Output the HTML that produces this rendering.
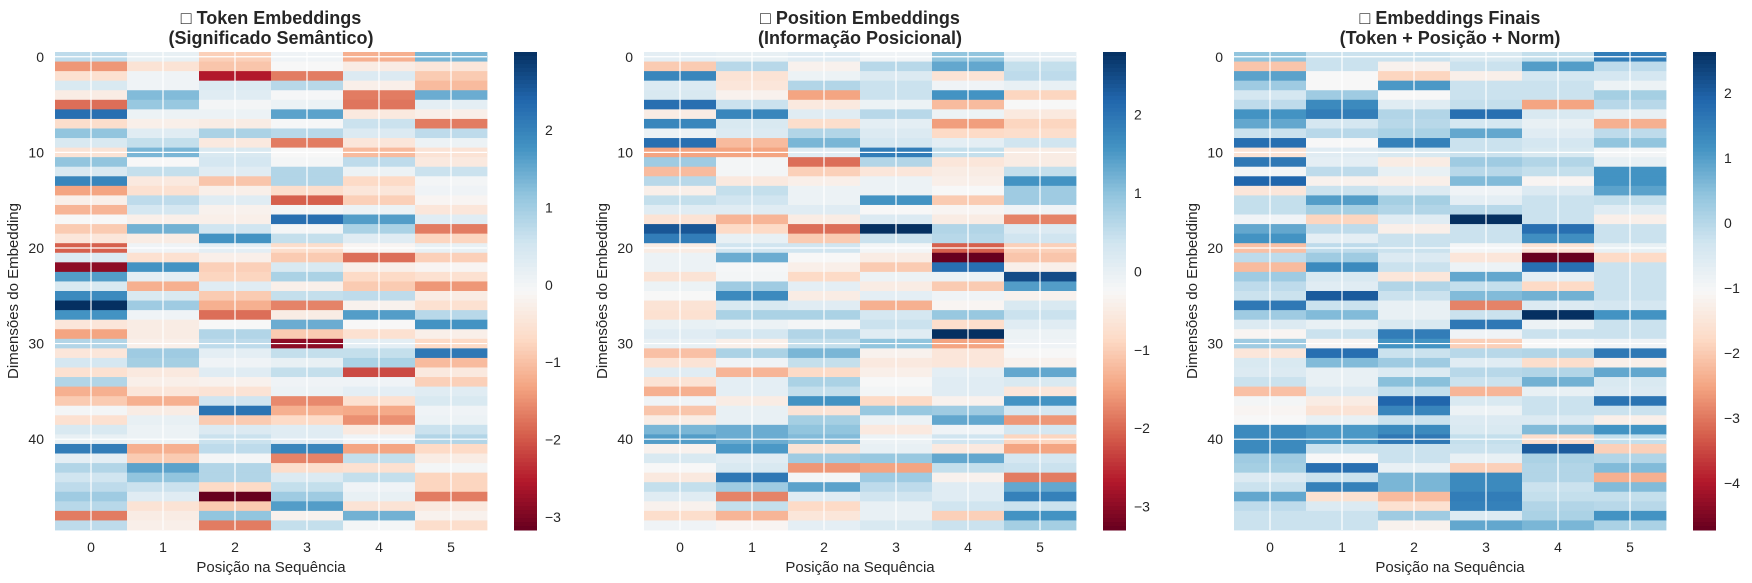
<!DOCTYPE html>
<html><head><meta charset="utf-8"><style>
html,body{margin:0;padding:0;background:#fff;}
svg{display:block;font-family:"Liberation Sans","DejaVu Sans",sans-serif;}
</style></head><body>
<svg id="fig" width="1752" height="583" viewBox="0 0 1752 583" xmlns="http://www.w3.org/2000/svg"></svg>
<script>
// Cell readings per heatmap (rows = embedding dims 0..49, columns = positions 0..5), in colour-level units
const positions = [0,1,2,3,4,5];
const yTickLabels = [0,10,20,30,40];
const tokenCols = [
[1.3,-2.2,-0.8,0.8,-0.4,-2.8,3.8,-0.9,2,0.8,-0.7,2,0.8,3.3,-2,-0.3,-1.7,0,-1.3,-0.6,-3,0.7,-4.5,2.8,0.8,3.2,5,3,-0.6,-2,1.5,-0.6,0.9,-0.8,1.5,-1.8,-1.3,0.1,-0.8,0.8,0.4,3.5,0.5,1.5,1,1.3,1.8,1.4,-2.6,1.3],
[0.4,-0.7,0.2,0.2,2.2,1.9,0.3,-0.3,0.6,1.2,2.3,0,1.2,-0.5,-0.8,1.3,0.9,-0.3,2.4,-0.4,0.2,-0.8,3,0.5,-1.8,0.8,1.8,0.2,-0.4,-0.4,-0.3,1.8,1.7,-0.5,-0.3,-0.6,-1.8,-0.4,0.4,0.3,0.3,-1.8,-1.3,2.7,2,1.1,0.6,-0.7,-0.4,-0.3],
[-1.2,-1.4,-4,0.7,0.6,0.1,0.3,-0.4,1.6,-0.5,0.8,0.9,0.6,-1.4,-0.3,0.6,-0.2,-0.3,1,3,0.5,-0.3,-1.2,-1.1,0.6,-1.3,-1.8,-2.8,0,1.5,1.3,0.5,0.2,0.6,-0.2,-0.7,1,3.7,-1.3,0.7,1.1,1.3,0.1,1.5,1.5,-1,-5,-1.3,2,-2.6],
[0.2,0,-2.6,1.4,0.05,0.3,2.7,0.05,1.4,-2.6,0,0.1,1.5,1.5,-0.9,-3,0.1,3.8,0.1,1.2,-0.9,-1.3,0.8,1.6,-0.3,1.2,-2.5,-0.4,2.5,-1.3,-4.5,1.2,0.4,1.2,0.2,0.3,-2.4,-1.8,-1,0.6,0.6,3.3,-2.5,-0.9,0.7,1.2,1.8,2.8,-0.2,1.2],
[-1.8,-0.4,0.7,-0.3,-2.6,-2.7,-0.5,1.1,0.7,-0.6,-1.6,1.3,0.3,-1,-0.6,-1.2,0.3,2.8,1.6,0.6,-0.1,-2.8,-0.3,-1,-1.3,1.3,-0.2,2.8,0,-0.8,0.5,1.2,1.6,-3.3,0.2,0.5,-0.8,-1.9,-2.3,-0.5,0.2,-2,1.2,-0.8,1.2,0.2,0.4,-0.7,2.4,0.1],
[2.3,-0.6,-1.3,-1.6,2.5,0.5,-0.3,-2.6,1.3,0.3,-0.7,-0.5,1.1,0.1,0.2,-0.1,-0.6,0.6,-2.6,-1.1,0.4,-1.2,-0.1,-0.8,-2.2,-0.4,-0.8,1.4,3,-0.3,-1,3.6,-1.6,-0.5,-1.2,0.6,0.8,0.2,0.3,1.1,1.5,-1,-0.4,0.1,-1.1,-1.1,-2.6,-0.5,-0.2,-0.9]
];
const positionCols = [
[0.5,-1.3,3.3,0.7,0.8,3.8,-0.4,3.3,0.3,3.8,-2,1.8,-1.6,1.4,-0.3,1.2,0.6,-0.7,4.3,3.5,-0.4,0.3,0.3,-0.7,0.3,0,-0.7,-0.8,0.4,0.6,0.4,-1.5,-0.7,0.6,-0.7,-1.8,0.2,-1.4,-0.4,2.3,2.8,-0.2,0.8,0,-0.5,1.2,0.6,-0.2,-0.9,0.2],
[0.4,1.4,-0.7,-0.6,-0.2,1.1,3.3,0.8,0.7,-1.6,-2,0.1,0.1,-0.5,1.2,1,0.6,-1.7,-1,0.4,1,2.5,0.05,0.1,1.8,3.2,0.8,1.6,0.3,0.9,-0.3,1.6,0.2,-1.7,0.5,0.5,-0.4,0.4,0.4,2.5,2.5,2.9,0.6,0.8,3.6,1.8,-2.5,1.2,-1.7,-0.1],
[0.6,-0.2,0.3,1.5,-2,-0.5,0.6,-0.9,1.5,2.3,0.6,-2.8,-1.2,-0.3,0.3,0.3,0.6,-0.4,-2.8,-1.3,1,0,-0.3,-1,0.5,-0.4,0.6,1.6,0.1,1.5,1.2,2.3,1.2,-1,1.6,1.2,3,-0.7,1.7,2,2.2,-0.7,1.8,-2.2,0.1,2.7,0.6,-1,-0.6,0.5],
[0.2,1.4,0.7,1.1,1.1,0.3,1.4,0.5,0.7,0.9,3.5,1.5,-0.6,0.3,0.3,3,0,0.7,5,1.1,0.1,-0.4,-1.3,0.3,-0.4,0.5,-1.8,0.9,1.1,0.6,2,-0.2,-0.5,-0.3,0,0.1,-1,1.9,0.3,-0.5,0.3,0.4,1.9,-2,1.8,1.3,1,0.4,0.4,0.8],
[2,2.6,-0.7,0.2,3,-1.6,0.3,-2.1,-1,0.5,1.2,-0.6,-0.4,-0.3,0,-1.3,-0.1,-0.4,1.5,1.4,-3,-5,3.8,0.3,-1.3,0.2,-0.1,1.9,-0.9,5,-2,-0.6,-0.6,0.5,0.6,0.6,-0.2,1.8,2.6,0.2,1,-0.5,2.6,1.2,-0.2,0.6,0.6,1,-1.2,1.1],
[0.5,1.2,1.3,0.4,-1.1,0,-0.5,-1.1,-0.9,1,-0.4,-0.4,1.2,3,1.8,1.8,0.2,-2.5,0.7,1,-1.2,-1.4,-0.3,4.5,2.8,-0.2,0.8,1.1,0.6,0.3,0.2,0,-0.2,2.6,0.8,-0.6,3,0.9,-2.2,0.9,-1.1,-2,0.9,1.1,-2.6,2.6,3.4,1.1,3,1.7]
];
const finalCols = [
[2,-1.4,2.7,1.8,0.9,1.3,3,2.6,1.1,3.8,-0.7,3.6,0.1,4,-0.6,1.2,1.2,0.2,2.6,3,-1.5,1.3,-1.6,1.8,1.3,1.1,3.6,1.8,0.7,-0.1,1.8,-0.6,0.8,0.7,1.1,-1.5,0.1,-0.1,0,3.2,3.2,3.2,1.8,1.7,0.7,1.1,2.6,1.3,1.1,1.1],
[1.1,1.1,0,0,1.8,3.2,3.5,0.9,1.4,0,0.6,0.5,1.3,-0.2,1.1,2.8,1.7,-1.1,1.3,0.5,1.3,1.8,3.2,0.8,0.6,4.2,1.1,2.2,0.4,1.1,-0.1,3.8,2.2,0.4,0.4,0.7,-0.4,-0.7,0.4,2.9,2.9,1.1,0,3.8,1.1,3.4,-0.8,0.7,1.1,1.1],
[1.1,-0.2,-1.1,2.9,0,0.6,1.5,1.4,1.6,3.4,0.8,-0.4,0.4,-0.3,0.7,1.7,1.5,0.6,-0.3,1.1,1.1,0.7,1.1,-0.6,1.5,1.1,0.4,0.4,0.8,3.5,3,1.1,1.8,0.7,2.1,1.2,4,3.3,1.1,3.2,3.6,1.1,1.1,0.4,2.3,2.3,-1.6,-0.8,1.8,-0.2],
[0.8,1.1,-0.3,1.1,1.1,1.2,3.8,0.9,2.6,1.1,1.1,1.8,1.4,2.2,0.2,0.5,1.4,5,1.1,1.1,0.1,-0.6,0.3,2.6,1.2,2.2,-2.5,1.1,3.6,0.2,-1.2,1.4,0.6,1.4,1.1,-1.7,0.8,0.3,0.7,0.8,1.2,1.1,0.4,-1.2,3.2,3.2,3.5,3.4,0.7,2.6],
[1.2,2.8,0.9,1.1,1.1,-2,0.8,0.4,0.6,0.9,0.8,1.5,1.2,-0.1,0.7,1.1,1.1,1.1,3.8,3.1,-0.7,-5,3.8,0.5,-1,2.4,0.7,5,0.3,1.1,0,1.5,-0.9,1.5,2.4,0.4,1.1,1.1,0.7,2.2,-0.9,4.2,1.6,1.5,1.5,1.1,1.2,1.5,1.6,2.3],
[3.5,1.3,0.9,0.3,1.7,1.4,0.4,-1.8,1.3,2,0.1,0.4,3,3,2.7,1.2,0.6,-0.3,1.1,1.1,0.4,-1,1.1,1.1,1.1,1.1,0.9,3,1.1,1.1,0.2,3.6,-0.3,2.6,0.8,0.7,3.7,1.1,-0.3,3,1.2,-1.2,1.5,2.2,-1.8,2.2,1.2,1.4,3,1.6]
];
// colour-bar tick labels per panel
const cbTicks1 = [2,1,0,-1,-2,-3];
const cbTicks2 = [2,1,0,-1,-2,-3];
const cbTicks3 = [2,1,0,-1,-2,-3,-4];

const RDBU = ['#67001f','#b2182b','#d6604d','#f4a582','#fddbc7','#f7f7f7','#d1e5f0','#92c5de','#4393c3','#2166ac','#053061'];
function hex(h){return [parseInt(h.substr(1,2),16),parseInt(h.substr(3,2),16),parseInt(h.substr(5,2),16)];}
function cmap(t){t=Math.max(0,Math.min(1,t));const p=t*10,i=Math.min(9,Math.floor(p)),f=p-i;const a=hex(RDBU[i]),b=hex(RDBU[i+1]);
 return 'rgb('+a.map((v,k)=>Math.round(v+(b[k]-v)*f)).join(',')+')';}
const NS='http://www.w3.org/2000/svg';
const svg=document.getElementById('fig');
function el(tag,attrs,parent){const e=document.createElementNS(NS,tag);for(const k in attrs)e.setAttribute(k,attrs[k]);(parent||svg).appendChild(e);return e;}
function txt(s,attrs,parent){const e=el('text',attrs,parent);e.textContent=s;return e;}

const TOP=52,BOT=530,NROW=50;
const panels=[
 {name:'token',cols:tokenCols,x0:55,x1:487,cb:514,vmin:-3.17,vmax:3.01,ticks:cbTicks1,t1:'□ Token Embeddings',t2:'(Significado Semântico)',ytx:18},
 {name:'position',cols:positionCols,x0:644,x1:1076,cb:1103,vmin:-3.3,vmax:2.8,ticks:cbTicks2,t1:'□ Position Embeddings',t2:'(Informação Posicional)',ytx:607},
 {name:'final',cols:finalCols,x0:1234,x1:1666,cb:1693,vmin:-4.72,vmax:2.63,ticks:cbTicks3,t1:'□ Embeddings Finais',t2:'(Token + Posição + Norm)',ytx:1197}
];
panels.forEach(P=>{
 const g=el('g',{});
 
 
 const mid=(P.vmin+P.vmax)/2, half=(P.vmax-P.vmin)/2;
 const colW=(P.x1-P.x0)/positions.length, rowH=(BOT-TOP)/NROW;
 const xs=i=>P.x0+i*colW, ys=r=>TOP+r*rowH;
 const toValue=l=>mid+l*half/5;              // colour level -> data value
 const norm=v=>(v-P.vmin)/(P.vmax-P.vmin);
 P.cols.forEach((col,ci)=>{
  col.forEach((lv,ri)=>{
   const r=el('rect',{x:xs(ci).toFixed(2),y:ys(ri).toFixed(2),width:(colW+0.4).toFixed(2),height:(rowH+0.4).toFixed(2),fill:cmap(norm(toValue(lv)))},g);
   
   
  });
 });
 // grid lines
 positions.forEach((p,i)=>{const l=el('line',{x1:xs(i)+colW/2,x2:xs(i)+colW/2,y1:TOP,y2:BOT,stroke:'#fff','stroke-width':1.2},g);
  });
 yTickLabels.forEach(t=>{const y=ys(t)+rowH/2;const l=el('line',{x1:P.x0,x2:P.x1,y1:y,y2:y,stroke:'#fff','stroke-width':1.2},g);
  
  const tl=txt(String(t),{x:P.x0-11,y:y+5,'text-anchor':'end','font-size':14,fill:'#262626'},g);
  });
 positions.forEach((p,i)=>{const tl=txt(String(p),{x:xs(i)+colW/2,y:552,'text-anchor':'middle','font-size':14,fill:'#262626'},g);
  });
 const xt=txt('Posição na Sequência',{x:(P.x0+P.x1)/2,y:572,'text-anchor':'middle','font-size':15,fill:'#262626'},g);
 
 const yt=txt('Dimensões do Embedding',{x:0,y:0,'text-anchor':'middle','font-size':15,fill:'#262626',transform:'translate('+P.ytx+','+((TOP+BOT)/2)+') rotate(-90)'},g);
 
 const cx=(P.x0+P.x1)/2;
 const t1=txt(P.t1,{x:cx,y:24,'text-anchor':'middle','font-size':18,'font-weight':'bold',fill:'#262626'},g);
 
 const t2=txt(P.t2,{x:cx,y:44,'text-anchor':'middle','font-size':18,'font-weight':'bold',fill:'#262626'},g);
 
 // colorbar
 const cbg=el('g',{},g);
 
 
 const N=120,h=(BOT-TOP)/N;
 for(let k=0;k<N;k++){const t=1-(k+0.5)/N;el('rect',{x:P.cb,y:(TOP+k*h).toFixed(2),width:23,height:(h+0.5).toFixed(2),fill:cmap(t)},cbg);}
 const cy=v=>TOP+(P.vmax-v)/(P.vmax-P.vmin)*(BOT-TOP);
 P.ticks.forEach(v=>{const tl=txt(v<0?'\u2212'+Math.abs(v):String(v),{x:P.cb+31,y:cy(v)+5,'font-size':14,fill:'#262626'},cbg);
  });
});
</script>
</body></html>
